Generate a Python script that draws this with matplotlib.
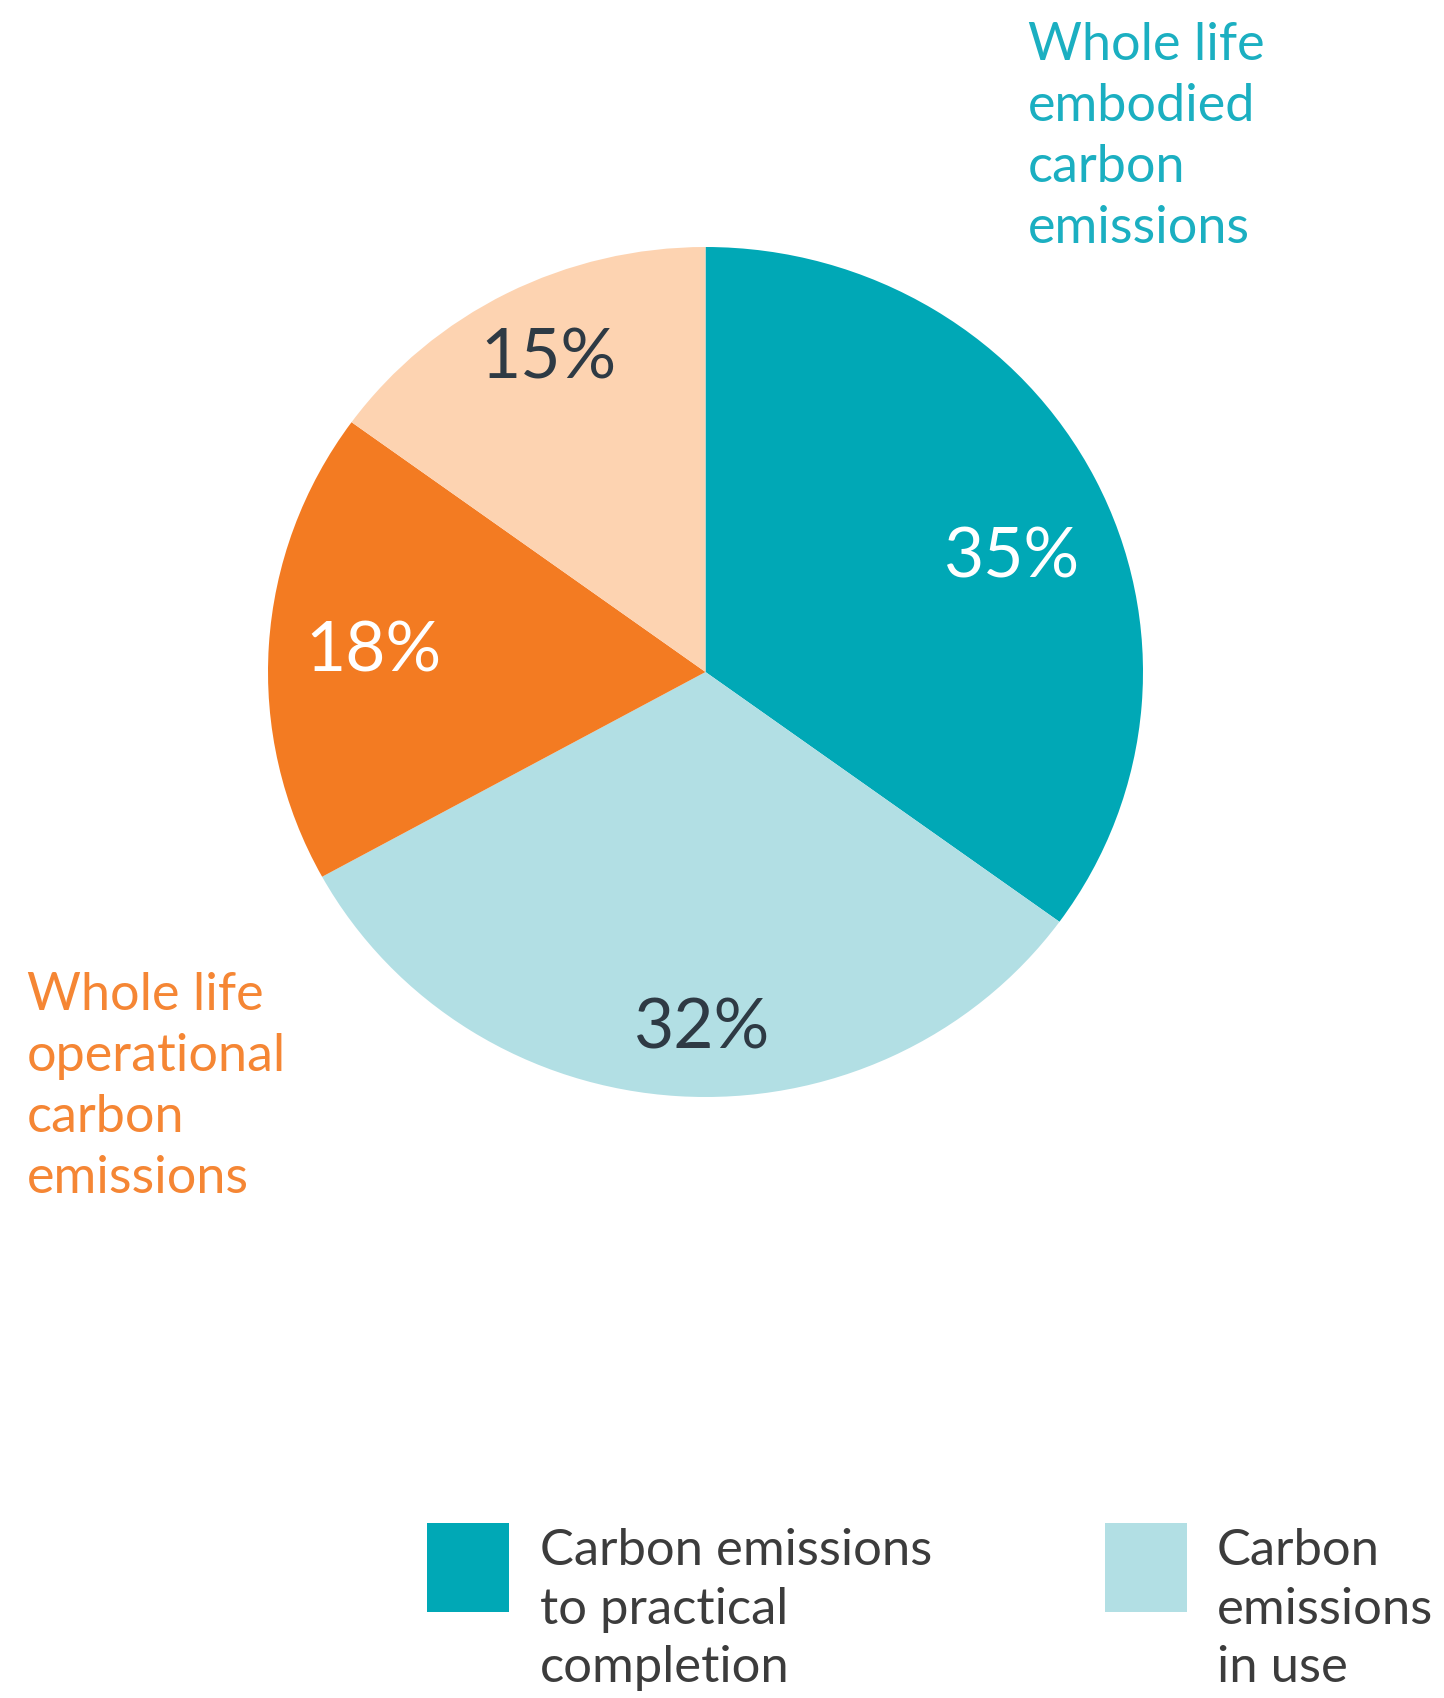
import matplotlib
matplotlib.use("Agg")
import matplotlib.pyplot as plt
import numpy as np
from matplotlib.patches import Rectangle

plt.rcParams['font.family'] = ['Lato', 'DejaVu Sans']

# ---- data ----
values = [35, 32, 18, 15]
pct_labels = ["35%", "32%", "18%", "15%"]
colors = ["#00A8B6", "#B2DFE4", "#F37B22", "#FDD3B1"]
pct_colors = ["white", "#2E3A44", "white", "#2E3A44"]
label_radii = [0.75, 0.84, 0.76, 0.82]
label_angle_shift = [-6, 3, 0, -1]

embodied_lines = ["Whole life", "embodied", "carbon", "emissions"]
operational_lines = ["Whole life", "operational", "carbon", "emissions"]
legend_entries = [
    ("#00A8B6", ["Carbon emissions", "to practical", "completion"]),
    ("#B2DFE4", ["Carbon", "emissions", "in use"]),
]

W, H = 1444, 1698
fig = plt.figure(figsize=(W / 100, H / 100), dpi=100)

def fx(px):
    return px / W

def fy(py):
    return 1 - py / H

# pie axes (bounding box of the slightly elliptical pie)
left, right, top, bottom = 268, 1143, 247, 1097
ax = fig.add_axes([fx(left), fy(bottom), (right - left) / W, (bottom - top) / H])
wedges, _ = ax.pie(values, colors=colors, startangle=90, counterclock=False,
                   radius=1.0, wedgeprops=dict(linewidth=0))
ax.set_aspect('auto')
ax.set_xlim(-1, 1)
ax.set_ylim(-1, 1)
ax.axis('off')

for w, lab, c, r, sh in zip(wedges, pct_labels, pct_colors, label_radii, label_angle_shift):
    mid = np.deg2rad((w.theta1 + w.theta2) / 2 + sh)
    ax.text(r * np.cos(mid), r * np.sin(mid), lab, ha='center', va='center',
            fontsize=50, color=c)

# annotation labels
teal_txt = "#1BAFC1"
orange_txt = "#F58634"
base_y = [60, 121, 182, 243]
for line, by in zip(embodied_lines, base_y):
    fig.text(fx(1028), fy(by), line, ha='left', va='baseline', fontsize=37.5, color=teal_txt)
base_y2 = [1010, 1071, 1132, 1193]
for line, by in zip(operational_lines, base_y2):
    fig.text(fx(27), fy(by), line, ha='left', va='baseline', fontsize=37.5, color=orange_txt)

# legend
sq_x = [427, 1105]
txt_x = [540, 1217]
leg_base = [1565, 1624, 1682]
for (col, lines), sx, tx in zip(legend_entries, sq_x, txt_x):
    fig.patches.append(Rectangle((fx(sx), fy(1612)), 82 / W, 89 / H, transform=fig.transFigure,
                                 facecolor=col, edgecolor='none'))
    for line, by in zip(lines, leg_base):
        fig.text(fx(tx), fy(by), line, ha='left', va='baseline', fontsize=36.5, color="#3C3C3C")

fig.savefig("out.png", dpi=100, facecolor='white')
